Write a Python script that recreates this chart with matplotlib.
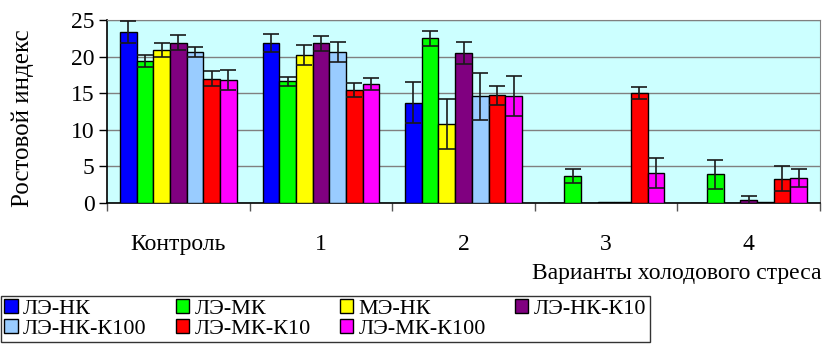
import numpy as np
import matplotlib

matplotlib.use("Agg")
import matplotlib.pyplot as plt

plt.rcParams["font.family"] = ["Liberation Serif", "DejaVu Serif"]

# --- data -----------------------------------------------------------------
groups = ["Контроль", "1", "2", "3", "4"]
series = ["ЛЭ-НК", "ЛЭ-МК", "МЭ-НК", "ЛЭ-НК-К10",
          "ЛЭ-НК-К100", "ЛЭ-МК-К10", "ЛЭ-МК-К100"]
colors = ["#0000FF", "#00FF00", "#FFFF00", "#800080",
          "#99CCFF", "#FF0000", "#FF00FF"]

le_nk = [23.4, 21.9, 13.7, 0.0, 0.0]
le_mk = [19.4, 16.6, 22.5, 3.7, 3.9]
me_nk = [20.9, 20.2, 10.8, 0.0, 0.0]
le_nk_k10 = [21.9, 21.8, 20.5, 0.2, 0.4]
le_nk_k100 = [20.6, 20.6, 14.6, 0.1, 0.15]
le_mk_k10 = [17.0, 15.4, 14.7, 15.0, 3.3]
le_mk_k100 = [16.8, 16.3, 14.6, 4.1, 3.4]

err_le_nk = [1.5, 1.25, 2.8, 0.0, 0.0]
err_le_mk = [0.8, 0.55, 1.0, 1.0, 2.0]
err_me_nk = [1.0, 1.4, 3.4, 0.0, 0.0]
err_le_nk_k10 = [1.0, 1.0, 1.45, 0.0, 0.55]
err_le_nk_k100 = [0.65, 1.35, 3.2, 0.0, 0.0]
err_le_mk_k10 = [1.0, 0.95, 1.25, 0.8, 1.7]
err_le_mk_k100 = [1.4, 0.8, 2.75, 2.0, 1.25]

values = [le_nk, le_mk, me_nk, le_nk_k10, le_nk_k100, le_mk_k10, le_mk_k100]
errors = [err_le_nk, err_le_mk, err_me_nk, err_le_nk_k10,
          err_le_nk_k100, err_le_mk_k10, err_le_mk_k100]

W, H = 824, 347
fig = plt.figure(figsize=(W / 100, H / 100), dpi=100)
ax = fig.add_axes([107 / W, 1 - 203 / H, (820 - 107) / W, (203 - 20) / H])
ax.set_facecolor("#CCFFFF")

x = np.arange(len(groups))
bw = 0.117
offset0 = -3 * bw
handles = []
for i, (vals, errs, c, name) in enumerate(zip(values, errors, colors, series)):
    xs = x + offset0 + i * bw
    b = ax.bar(xs, vals, bw, color=c, edgecolor="black", linewidth=1.0,
               label=name, zorder=3)
    handles.append(b)
    vals = np.array(vals)
    errs = np.array(errs)
    m = errs > 0
    ax.errorbar(xs[m], vals[m], yerr=errs[m], fmt="none", ecolor="#1a1a1a",
                elinewidth=1.2, capsize=6, capthick=1.2, zorder=4)

ax.set_xlim(-0.5, len(groups) - 0.5)
ax.set_ylim(0, 25)
ax.set_yticks(range(0, 26, 5))
ax.yaxis.grid(True, color="#808080", linewidth=1.0, zorder=0)
ax.set_axisbelow(True)

# boundaries as major ticks, group names as minor tick labels
ax.set_xticks(np.arange(-0.5, len(groups), 1.0))
ax.set_xticklabels([])
ax.set_xticks(x, minor=True)
ax.set_xticklabels(groups, minor=True)
ax.tick_params(axis="x", which="major", direction="out", length=6,
               color="#555555", width=1)
ax.tick_params(axis="x", which="minor", length=0, pad=22, labelsize=17)
ax.tick_params(axis="y", direction="out", length=6, width=1, labelsize=17,
               pad=3)

for s in ("top", "right"):
    ax.spines[s].set_color("#808080")
for s in ("left", "bottom"):
    ax.spines[s].set_color("black")
    ax.spines[s].set_linewidth(1.2)

fig.text(23 / W, 1 - 118 / H, "Ростовой индекс", rotation=90,
         ha="center", va="center", fontsize=18)
fig.text(821 / W, 1 - 273 / H, "Варианты холодового стреса",
         ha="right", va="center", fontsize=17)

order = [0, 4, 1, 5, 2, 6, 3]
leg = fig.legend([handles[k] for k in order], [series[k] for k in order],
                 ncol=4, loc="upper left",
                 bbox_to_anchor=(1 / W, 1 - 296 / H),
                 fontsize=16, frameon=True, fancybox=False,
                 edgecolor="black", handlelength=0.6, handleheight=0.6,
                 handletextpad=0.25, columnspacing=1.3, labelspacing=0.0,
                 borderpad=0.15, borderaxespad=0)
leg.get_frame().set_linewidth(1.0)

fig.savefig("out.png", dpi=100)
